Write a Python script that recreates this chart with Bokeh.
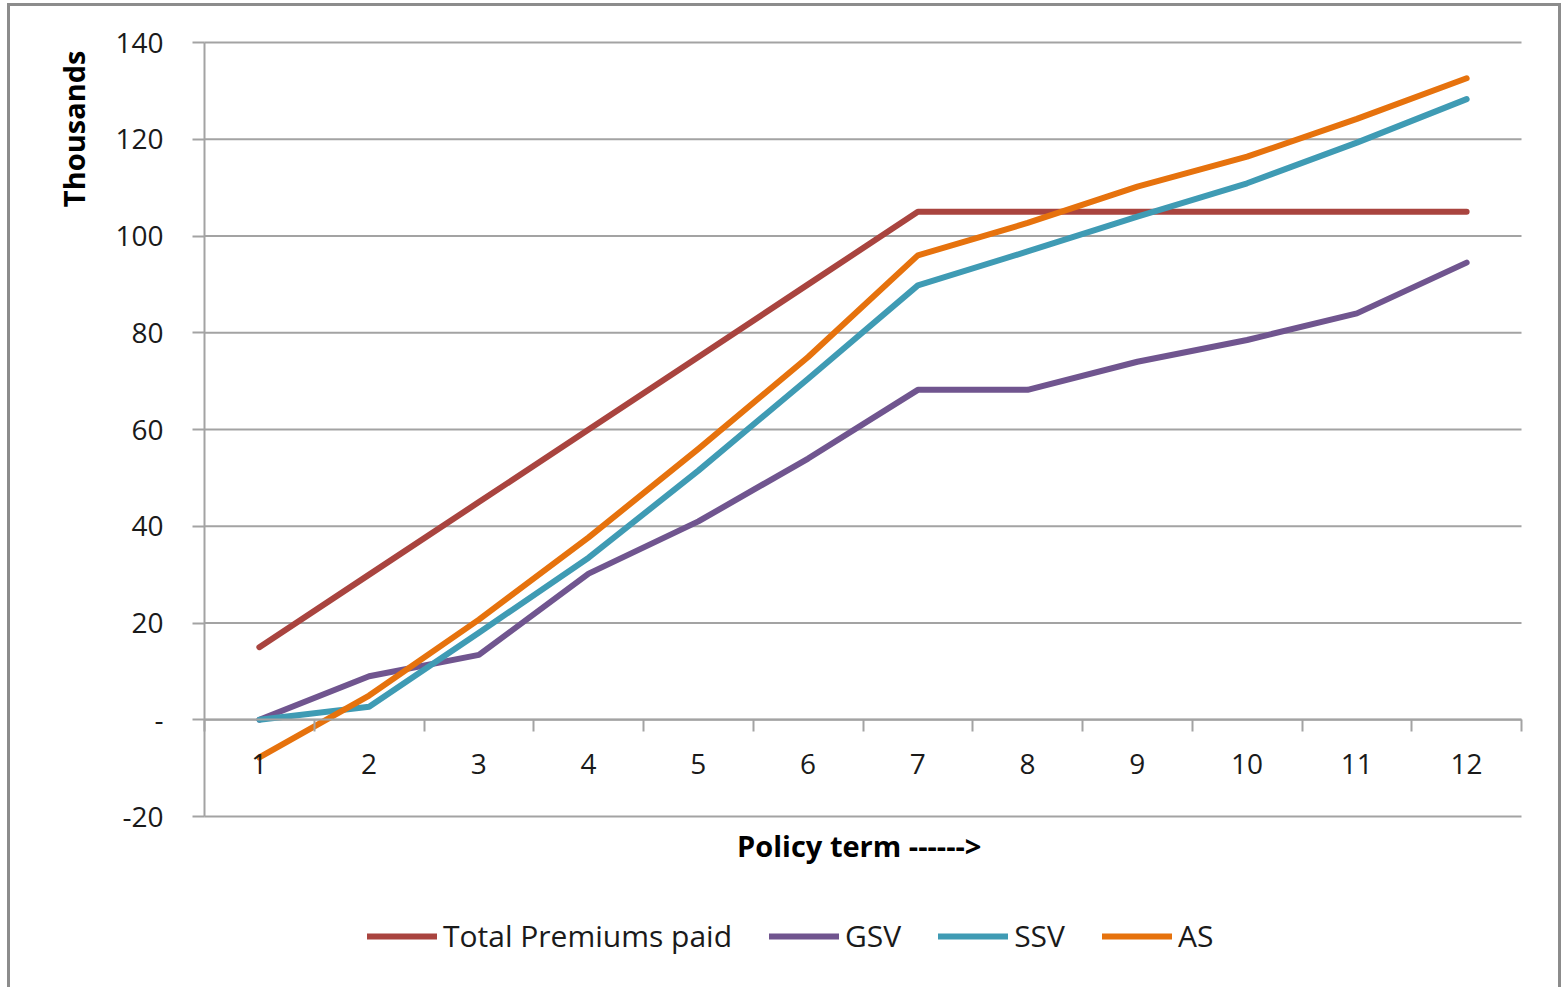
from math import pi

from bokeh.plotting import figure
from bokeh.models import FixedTicker, Label, Legend, LegendItem, Range1d
from bokeh.embed import file_html
from bokeh.resources import INLINE

# Policy years
terms = [1, 2, 3, 4, 5, 6, 7, 8, 9, 10, 11, 12]

# Values in thousands
total_premiums = [15, 30, 45, 60, 75, 90, 105, 105, 105, 105, 105, 105]
gsv = [0, 9, 13.4, 30.2, 41, 54, 68.2, 68.2, 74, 78.5, 84, 94.5]
ssv = [0, 2.7, 18, 33.5, 51.5, 70.5, 89.8, 96.8, 104, 110.9, 119.3, 128.3]
as_values = [-7.8, 5, 20.7, 37.7, 56, 75, 96, 102.7, 110.2, 116.4, 124.2, 132.6]

y_ticks = [-20, 0, 20, 40, 60, 80, 100, 120, 140]
y_tick_labels = {-20: "-20", 0: "-"}
category_edges = [t - 0.5 for t in terms] + [terms[-1] + 0.5]

series = [
    ("Total Premiums paid", total_premiums, "#A9443F"),
    ("GSV", gsv, "#70558F"),
    ("SSV", ssv, "#3F9BB4"),
    ("AS", as_values, "#E6720D"),
]

FONT = "Open Sans"
GRID = "#a3a3a3"
TEXT = "#1a1a1a"

# Canvas layout (pixels): the drawing surface is the whole chart box,
# the plotting area sits inside it.
W, H = 1554, 990
AREA_L, AREA_R = 194, 1511  # plotting area, from canvas left
AREA_T, AREA_B = 36, 810    # plotting area, from canvas top

x_lo, x_hi = terms[0] - 0.5, terms[-1] + 0.5
y_lo, y_hi = y_ticks[0], y_ticks[-1]
px_x = (AREA_R - AREA_L) / (x_hi - x_lo)
px_y = (AREA_B - AREA_T) / (y_hi - y_lo)

x_range = Range1d(x_lo - AREA_L / px_x, x_hi + (W - AREA_R) / px_x)
y_range = Range1d(y_lo - (H - AREA_B) / px_y, y_hi + AREA_T / px_y)

p = figure(
    width=W, height=H, x_range=x_range, y_range=y_range,
    min_border=0, output_backend="svg", toolbar_location=None,
    background_fill_color="white", border_fill_color="white",
)
p.styles = {"border": "3px solid #8c8c8c", "margin": "3px 0 0 7px"}
p.outline_line_color = None
p.xgrid.visible = False
p.ygrid.visible = False

# Horizontal gridlines across the category span
p.segment(x0=[x_lo] * len(y_ticks), x1=[x_hi] * len(y_ticks),
          y0=y_ticks, y1=y_ticks, line_color=GRID, line_width=2)

# Value axis on the left edge of the category span
yax = p.yaxis[0]
yax.fixed_location = x_lo
yax.bounds = (y_lo, y_hi)
yax.ticker = FixedTicker(ticks=y_ticks)
yax.major_label_overrides = y_tick_labels
yax.axis_line_color = GRID
yax.axis_line_width = 2
yax.major_tick_line_color = GRID
yax.major_tick_line_width = 2
yax.major_tick_out = 12
yax.major_tick_in = 0
yax.minor_tick_line_color = None
yax.major_label_standoff = 29
yax.major_label_text_font = FONT
yax.major_label_text_font_size = "28px"
yax.major_label_text_color = TEXT

# Category axis on the zero line
xax = p.xaxis[0]
xax.fixed_location = 0
xax.bounds = (x_lo, x_hi)
xax.ticker = FixedTicker(ticks=terms, minor_ticks=category_edges)
xax.axis_line_color = GRID
xax.axis_line_width = 2
xax.major_tick_line_color = None
xax.major_tick_out = 0
xax.major_tick_in = 0
xax.minor_tick_line_color = GRID
xax.minor_tick_line_width = 2
xax.minor_tick_out = 12
xax.minor_tick_in = 0
xax.major_label_standoff = 22
xax.major_label_text_font = FONT
xax.major_label_text_font_size = "28px"
xax.major_label_text_color = TEXT

items = []
for name, vals, color in series:
    r = p.line(terms, vals, line_color=color, line_width=6,
               line_cap="round", line_join="round")
    items.append(LegendItem(label=name, renderers=[r]))

legend = Legend(
    items=items, orientation="horizontal", location=(357, 40),
    glyph_width=70, glyph_height=30, label_height=30, label_standoff=6,
    spacing=37, padding=0, margin=0,
    label_text_font=FONT, label_text_font_size="30px", label_text_color=TEXT,
    border_line_color=None, background_fill_alpha=0,
)
p.add_layout(legend)

# Axis titles
p.add_layout(Label(
    x=(x_lo + x_hi) / 2, y=y_lo, y_offset=-29, text="Policy term  ------>",
    text_align="center", text_baseline="middle",
    text_font=FONT, text_font_size="29px", text_font_style="bold",
    text_color="#000000",
))
p.add_layout(Label(
    x=x_lo, y=y_hi, x_offset=-131, y_offset=-8, text="Thousands",
    angle=pi / 2, text_align="right", text_baseline="middle",
    text_font=FONT, text_font_size="29px", text_font_style="bold",
    text_color="#000000",
))

open("out.html", "w").write(file_html(p, INLINE))
